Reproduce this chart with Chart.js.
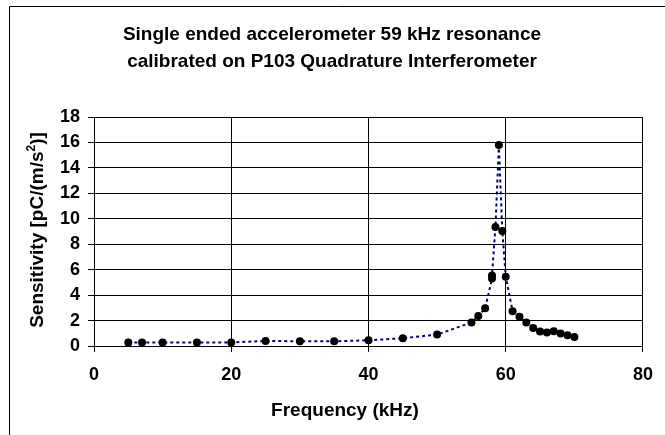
<!DOCTYPE html>
<html>
<head>
<meta charset="utf-8">
<script src="https://cdn.jsdelivr.net/npm/chart.js@4/dist/chart.umd.min.js"></script>
<style>
  html, body { margin: 0; padding: 0; background: #fff; }
  #c { display: block; }
</style>
</head>
<body>
<canvas id="c" width="665" height="435"></canvas>
<script>
// ---- data ----
const titleLines = ["Single ended accelerometer 59 kHz resonance", "calibrated on P103 Quadrature Interferometer"];
const xTitle = "Frequency (kHz)";
const yTitleMain = "Sensitivity [pC/(m/s";
const yTitleSup = "2";
const yTitleEnd = ")]";
const freqKHz = [5, 7, 10, 15, 20, 25, 30, 35, 40, 45, 50, 55, 56, 57, 58, 58, 58.5, 59, 59.5, 60, 61, 62, 63, 64, 65, 66, 67, 68, 69, 70];
const sensitivity = [0.27, 0.27, 0.28, 0.28, 0.28, 0.40, 0.37, 0.37, 0.45, 0.61, 0.90, 1.85, 2.35, 2.96, 5.30, 5.55, 9.36, 15.8, 9.04, 5.45, 2.74, 2.29, 1.85, 1.42, 1.14, 1.06, 1.16, 0.98, 0.85, 0.71];
const xTicks = { min: 0, max: 80, step: 20 };
const yTicks = { min: 0, max: 18, step: 2 };

const FONT = "'Liberation Sans', Arial, sans-serif";

const decorPlugin = {
  id: 'decor',
  afterDraw(chart) {
    const ctx = chart.ctx;
    ctx.save();
    // outer frame
    ctx.strokeStyle = '#000';
    ctx.lineWidth = 1;
    ctx.beginPath();
    ctx.moveTo(9.5, 440);
    ctx.lineTo(9.5, 6.5);
    ctx.lineTo(670, 6.5);
    ctx.stroke();
    // title
    ctx.fillStyle = '#000';
    ctx.font = "bold 19px " + FONT;
    ctx.textAlign = 'center';
    ctx.textBaseline = 'middle';
    ctx.fillText(titleLines[0], 332, 35);
    ctx.fillText(titleLines[1], 332, 62);
    // x title
    ctx.fillText(xTitle, 345, 411);
    // y title with superscript
    ctx.translate(38, 230);
    ctx.rotate(-Math.PI / 2);
    const supFont = "bold 12px " + FONT;
    const mainFont = "bold 19px " + FONT;
    ctx.font = mainFont;
    const w1 = ctx.measureText(yTitleMain).width;
    const w3 = ctx.measureText(yTitleEnd).width;
    ctx.font = supFont;
    const w2 = ctx.measureText(yTitleSup).width;
    const total = w1 + w2 + w3;
    let x0 = -total / 2;
    ctx.textAlign = 'left';
    ctx.font = mainFont;
    ctx.fillText(yTitleMain, x0, 0);
    ctx.font = supFont;
    ctx.fillText(yTitleSup, x0 + w1, -6);
    ctx.font = mainFont;
    ctx.fillText(yTitleEnd, x0 + w1 + w2, 0);
    ctx.restore();
  }
};

const points = freqKHz.map((f, i) => ({ x: f, y: sensitivity[i] }));

new Chart(document.getElementById('c'), {
  type: 'scatter',
  data: {
    datasets: [{
      data: points,
      showLine: true,
      borderColor: '#000080',
      borderWidth: 2,
      borderDash: [3, 3],
      tension: 0,
      pointRadius: 4,
      pointHoverRadius: 4,
      pointBackgroundColor: '#000',
      pointBorderColor: '#000',
      pointBorderWidth: 0
    }]
  },
  options: {
    responsive: false,
    animation: false,
    devicePixelRatio: 1,
    layout: { padding: { left: 0, right: 19, top: 117, bottom: 0 } },
    plugins: { legend: { display: false }, title: { display: false }, tooltip: { enabled: false } },
    scales: {
      x: {
        type: 'linear',
        min: xTicks.min, max: xTicks.max,
        ticks: { stepSize: xTicks.step, color: '#000', font: { family: FONT, size: 18, weight: 'bold' }, padding: 12, maxRotation: 0 },
        grid: { color: '#000', lineWidth: 1, tickLength: 6 },
        border: { color: '#000', width: 1 },
        afterFit(s) { s.height = 89; }
      },
      y: {
        type: 'linear',
        min: yTicks.min, max: yTicks.max,
        ticks: { stepSize: yTicks.step, color: '#000', font: { family: FONT, size: 18, weight: 'bold' }, padding: 8 },
        grid: { color: '#000', lineWidth: 1, tickLength: 6 },
        border: { color: '#000', width: 1 },
        afterFit(s) { s.width = 94; }
      }
    }
  },
  plugins: [decorPlugin]
});
</script>
</body>
</html>
